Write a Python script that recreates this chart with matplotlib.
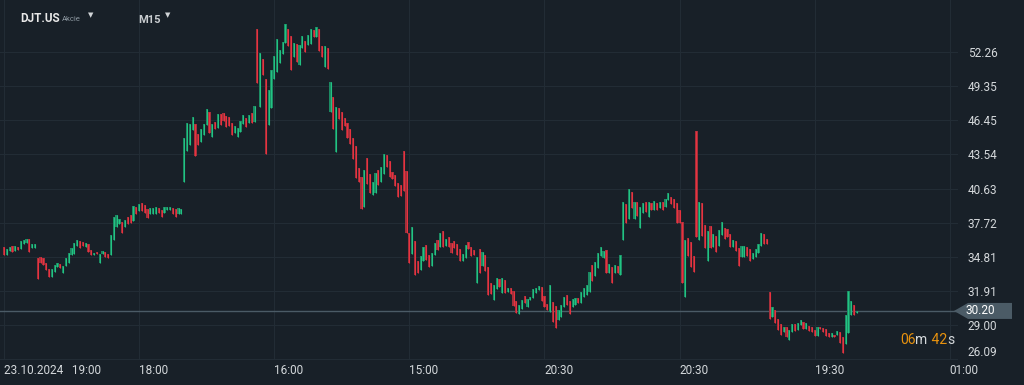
"""DJT.US M15 candlestick chart in a dark trading-terminal style. Writes out.png."""

import matplotlib

matplotlib.use("Agg")
import matplotlib.pyplot as plt  # noqa: E402
import numpy as np  # noqa: E402
from matplotlib.patches import Polygon  # noqa: E402
from matplotlib.transforms import IdentityTransform  # noqa: E402

BG = "#182028"
GRID = "#222c35"
TXT = "#d4d8db"
UP, UP_BODY = "#22c383", "#1c8862"
DOWN, DOWN_BODY = "#e8323f", "#a3303b"
TAG = "#4b5b66"
ORANGE = "#e8920e"

# M15 bars, oldest first
OPEN = [
    35.65, 34.97, 35.31, 35.74, 35.31, 35.65, 35.48, 35.91, 35.99, 36.33, 35.56, 35.56,
    34.71, 34.80, 34.71, 34.29, 33.78, 33.09, 33.52, 33.95, 34.20, 33.44, 34.03, 34.29,
    34.97, 35.05, 35.74, 36.16, 36.08, 35.65, 35.91, 35.39, 34.97, 35.22, 34.29, 35.05,
    35.22, 35.05,
    34.97, 36.25, 37.35, 37.61, 37.78, 37.35, 38.21, 38.38, 37.86, 39.06, 38.72, 39.40,
    39.23, 38.89, 38.46, 38.46, 38.46, 38.97, 38.80, 38.55, 38.80, 38.80, 38.97, 38.89,
    38.46, 38.46,
    41.19, 43.83, 44.34, 45.62, 46.13, 45.27, 44.59, 45.19, 46.04, 47.15, 45.02, 46.30,
    45.79, 46.98, 47.06, 46.81, 46.72, 46.21, 45.36, 45.02, 45.45, 46.13, 46.64, 46.21,
    47.06, 46.30, 54.22, 47.58, 51.66, 49.96, 46.04, 47.49, 49.96, 50.56, 51.32, 52.09,
    53.03, 54.22, 53.62, 51.83, 52.94, 51.15, 52.60, 53.20, 52.86, 52.94, 54.13, 53.54,
    54.22, 52.77, 50.98, 52.60, 47.15, 48.43, 43.74, 47.49, 47.15, 46.64,
    46.21, 45.70, 44.93, 44.25, 42.38, 41.61, 39.06, 43.23, 41.87, 40.08, 40.25, 42.21,
    41.19, 41.87, 43.49, 42.98, 42.04, 41.78, 41.10, 40.93, 43.83, 42.13, 36.84, 35.05,
    36.16, 34.46, 33.69, 34.46, 35.82, 34.97, 34.03, 34.97, 36.25, 35.65, 37.01, 35.74,
    36.50, 35.99, 36.16, 35.91, 35.48, 34.46, 34.71, 36.08, 35.65, 35.39, 32.58, 35.48,
    34.03, 34.97,
    33.95, 32.58, 31.14, 32.07, 32.92, 31.73, 32.84, 31.82, 32.16, 31.90, 31.05, 29.95,
    30.37, 31.48, 30.54, 31.14, 31.31, 31.73, 31.99, 32.24, 31.48, 30.79, 30.11, 30.96,
    30.62, 29.43, 29.69, 30.54, 31.56, 31.05, 30.54, 30.71, 31.31, 30.88, 31.39, 31.56,
    31.82, 34.12, 33.18, 33.86, 34.88, 34.71, 35.39, 33.44, 33.95, 33.44, 34.03, 33.26,
    36.25, 39.31, 38.04, 40.33, 38.04, 39.48, 37.27, 38.55, 39.48, 38.21, 39.40, 38.80,
    39.40, 38.97, 39.48, 39.06, 39.65, 39.91, 39.74, 39.40, 38.80, 37.78, 31.39, 36.42,
    36.08, 34.88, 45.53, 36.25, 39.40, 37.52, 34.46, 37.44, 35.65, 36.59, 35.74, 36.67,
    37.27, 37.18, 36.76, 35.65, 36.16, 35.56, 34.80, 34.80, 35.65, 35.48, 34.63, 34.80,
    35.14, 35.74, 36.76, 36.33,
    31.82, 29.69, 30.28, 29.52, 29.09, 28.41, 28.83, 27.73, 28.41, 29.09, 28.58, 29.00,
    29.26, 28.66, 28.92, 28.83, 28.58, 28.07, 28.83, 28.75, 28.66, 28.32, 27.98, 28.15,
    28.15, 28.41, 27.98, 27.39, 28.32, 29.86, 30.71, 30.03,
]
CLOSE = [
    34.97, 35.48, 35.65, 35.22, 35.74, 35.39, 36.16, 36.25, 36.33, 35.22, 35.91, 35.91,
    32.92, 34.29, 34.12, 33.69, 33.09, 33.78, 34.12, 34.29, 33.86, 34.03, 34.71, 35.14,
    35.56, 35.99, 36.25, 35.56, 35.74, 35.99, 35.22, 34.97, 35.14, 35.05, 35.05, 35.31,
    34.80, 34.71,
    36.67, 38.21, 38.38, 38.04, 36.84, 37.95, 37.61, 37.69, 39.14, 38.46, 39.31, 38.72,
    38.55, 38.12, 38.97, 38.97, 39.06, 38.55, 38.21, 39.06, 39.06, 39.06, 38.46, 38.21,
    38.97, 38.89,
    44.93, 46.21, 46.13, 46.72, 43.40, 44.34, 45.70, 46.13, 47.40, 45.36, 46.13, 45.70,
    46.98, 46.04, 46.38, 45.87, 45.96, 45.19, 45.96, 45.79, 46.38, 46.89, 45.87, 46.89,
    46.21, 47.66, 49.62, 52.17, 50.30, 43.57, 49.02, 50.73, 51.92, 53.37, 52.43, 53.11,
    54.65, 52.77, 50.73, 53.03, 51.41, 52.86, 53.62, 52.26, 53.71, 54.22, 53.54, 54.39,
    52.35, 51.83, 52.77, 50.81, 49.70, 45.70, 47.58, 46.55, 45.62, 45.96,
    44.93, 44.42, 43.14, 41.53, 41.19, 38.89, 42.21, 41.02, 40.25, 41.19, 41.95, 40.93,
    42.47, 43.57, 42.47, 41.61, 41.44, 40.85, 39.91, 39.99, 40.42, 36.84, 34.29, 37.35,
    33.26, 33.44, 34.88, 35.65, 34.54, 33.95, 35.14, 35.99, 35.39, 36.84, 35.65, 36.33,
    35.65, 35.14, 35.56, 34.97, 34.46, 35.05, 35.82, 35.48, 34.88, 34.97, 34.80, 33.44,
    35.22, 33.61,
    31.56, 31.65, 32.41, 33.01, 32.24, 33.01, 31.73, 32.16, 31.65, 30.62, 30.03, 30.71,
    31.14, 30.88, 31.22, 31.39, 32.07, 32.16, 32.33, 31.05, 30.54, 30.28, 32.41, 29.26,
    28.75, 30.28, 30.71, 31.39, 30.71, 29.95, 31.22, 31.31, 30.88, 31.82, 32.16, 32.41,
    33.52, 32.75, 34.37, 35.14, 35.65, 35.31, 33.44, 34.20, 32.58, 34.12, 33.44, 34.97,
    39.48, 37.69, 40.59, 38.97, 39.48, 38.29, 39.06, 39.40, 38.63, 39.48, 38.80, 39.57,
    38.80, 39.48, 38.80, 39.74, 40.25, 39.31, 38.97, 37.69, 37.69, 32.58, 36.25, 34.88,
    33.95, 33.52, 36.50, 39.48, 36.59, 35.56, 37.01, 35.56, 36.76, 35.22, 37.10, 37.78,
    36.33, 36.50, 35.65, 36.25, 35.31, 34.03, 35.74, 35.74, 34.88, 34.46, 35.14, 35.48,
    35.91, 36.84, 35.91, 35.91,
    29.52, 30.54, 29.17, 28.58, 28.15, 28.83, 27.98, 28.58, 29.09, 28.49, 29.17, 29.43,
    28.66, 29.17, 28.49, 28.41, 28.07, 28.83, 28.66, 28.41, 28.07, 27.98, 28.32, 27.98,
    28.49, 27.47, 26.62, 29.86, 31.90, 31.05, 29.86, 30.20,
]

PRICE_TICKS = [52.26, 49.35, 46.45, 43.54, 40.63, 37.72, 34.81, 31.91, 29.00, 26.09]
TIME_TICKS = [0, 48, 96, 144, 192, 240, 288, 336]
TIME_LABELS = ["23.10.2024   19:00", "18:00", "16:00", "15:00", "20:30", "20:30", "19:30", "01:00"]
LAST_PRICE = 30.20
SYMBOL, ASSET, TIMEFRAME = "DJT.US", "Akcie", "M15"
COUNTDOWN = [("06", ORANGE), ("m", TXT), (" 42", ORANGE), ("s", TXT)]

W, H = 1024, 385


def fx(px):
    return px / W


def fy(py):
    return 1 - py / H


def main() -> None:
    plt.rcParams["font.family"] = ["Roboto", "DejaVu Sans"]
    o = np.array(OPEN)
    c = np.array(CLOSE)
    assert len(o) == len(c)
    x = np.arange(len(o))
    up = c >= o

    fig = plt.figure(figsize=(W / 100, H / 100), dpi=100, facecolor=BG)
    ax = fig.add_axes([0, 25 / H, 958 / W, 360 / H], facecolor=BG)

    # candles: dim body + bright centre line
    lo, hi = np.minimum(o, c), np.maximum(o, c)
    ax.bar(x, hi - lo, bottom=lo, width=0.78,
           color=np.where(up, UP_BODY, DOWN_BODY), linewidth=0, zorder=3)
    ax.vlines(x, lo, hi, colors=np.where(up, UP, DOWN), linewidth=0.8, zorder=4)

    ax.axhline(LAST_PRICE, color=TAG, lw=1, zorder=2)

    ax.set_xlim(-1.42, 338.9)
    ax.set_ylim(26.02, 56.69)
    ax.set_xticks(TIME_TICKS)
    ax.set_xticklabels(TIME_LABELS, ha="left")
    ax.set_yticks(PRICE_TICKS)
    ax.set_yticklabels([f"{v:.2f}" for v in PRICE_TICKS])
    ax.yaxis.tick_right()
    ax.tick_params(axis="both", length=0, colors=TXT, labelsize=8.5)
    ax.tick_params(axis="y", pad=7)
    ax.tick_params(axis="x", pad=3)
    ax.get_yticklabels()[-1].set_va("bottom")  # lowest label sits just above the time axis
    ax.grid(True, color=GRID, lw=0.8)
    ax.set_axisbelow(True)
    for s in ax.spines.values():
        s.set_visible(False)

    # last price tag (pentagon in pixels, anchored on the price)
    y0 = ax.transData.transform((0, LAST_PRICE))[1]
    tag = Polygon([(954, y0), (968, y0 + 8), (1012, y0 + 8), (1012, y0 - 8), (968, y0 - 8)],
                  closed=True, fc=TAG, ec="none", transform=IdentityTransform(),
                  clip_on=False, zorder=6)
    ax.add_patch(tag)
    ax.annotate(f"{LAST_PRICE:.2f}", xy=(1, LAST_PRICE), xycoords=("axes fraction", "data"),
                xytext=(7, 0), textcoords="offset pixels", va="center", ha="left",
                color="#ffffff", fontsize=8.5, zorder=7, annotation_clip=False)

    # header
    fig.text(fx(20), fy(18), SYMBOL, color="#e8e8e8", fontsize=8.5, fontweight="bold", va="center")
    fig.text(fx(62), fy(19), ASSET, color="#8e99a2", fontsize=5.5, va="center")
    fig.text(fx(88), fy(16), "▼", color="#d0d4d7", fontsize=5, va="center")
    fig.text(fx(138), fy(20), TIMEFRAME, color="#c8cccf", fontsize=8, fontweight="bold", va="center")
    fig.text(fx(165), fy(16), "▼", color="#d0d4d7", fontsize=5, va="center")

    # candle countdown, pieces laid out one after another
    renderer = fig.canvas.get_renderer()
    px = 900
    for s, col in COUNTDOWN:
        t = fig.text(fx(px), fy(340), s, color=col, fontsize=10, va="center")
        px += t.get_window_extent(renderer).width

    fig.savefig("out.png", dpi=100, facecolor=BG)


if __name__ == "__main__":
    main()
